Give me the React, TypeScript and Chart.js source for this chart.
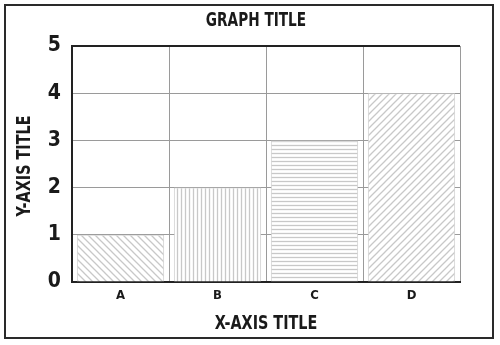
import React, { useEffect, useRef } from "react";
import { Chart, registerables } from "chart.js";

Chart.register(...registerables);

const categories = ["A", "B", "C", "D"];
const values = [1, 2, 3, 4];
const patternKinds = ["backslash", "vertical", "horizontal", "slash"];
const yTicks = [0, 1, 2, 3, 4, 5];
const chartTitle = "GRAPH TITLE";
const xTitle = "X-AXIS TITLE";
const yTitle = "Y-AXIS TITLE";

const FONT = "'DejaVu Sans Condensed', 'DejaVu Sans', sans-serif";

function makePattern(kind: string): CanvasPattern | string {
  const c = document.createElement("canvas");
  const s = kind === "vertical" || kind === "horizontal" ? 4 : 7;
  c.width = s;
  c.height = s;
  const g = c.getContext("2d");
  if (!g) return "#ddd";
  g.fillStyle = "#ffffff";
  g.fillRect(0, 0, s, s);
  g.strokeStyle = "#c8c8c8";
  g.lineWidth = 1.3;
  g.beginPath();
  if (kind === "vertical") {
    g.moveTo(1.5, 0);
    g.lineTo(1.5, s);
  } else if (kind === "horizontal") {
    g.moveTo(0, 1.5);
    g.lineTo(s, 1.5);
  } else if (kind === "slash") {
    g.moveTo(0, s);
    g.lineTo(s, 0);
    g.moveTo(-1, 1);
    g.lineTo(1, -1);
    g.moveTo(s - 1, s + 1);
    g.lineTo(s + 1, s - 1);
  } else {
    g.moveTo(0, 0);
    g.lineTo(s, s);
    g.moveTo(s - 1, -1);
    g.lineTo(s + 1, 1);
    g.moveTo(-1, s - 1);
    g.lineTo(1, s + 1);
  }
  g.stroke();
  const p = g.createPattern(c, "repeat");
  return p || "#ddd";
}

function drawNarrowText(ctx: CanvasRenderingContext2D, text: string, x: number, y: number, size: number, rotate: boolean) {
  ctx.save();
  ctx.translate(x, y);
  if (rotate) ctx.rotate(-Math.PI / 2);
  ctx.scale(0.8, 1);
  ctx.font = `bold ${size}px ${FONT}`;
  ctx.fillStyle = "#1a1a1a";
  ctx.textAlign = "center";
  ctx.textBaseline = "middle";
  ctx.fillText(text, 0, 0);
  ctx.restore();
}

const framePlugin = {
  id: "frame",
  beforeDraw(chart: any) {
    const ctx = chart.ctx;
    ctx.save();
    ctx.fillStyle = "#ffffff";
    ctx.fillRect(0, 0, chart.width, chart.height);
    ctx.strokeStyle = "#2a2a2a";
    ctx.lineWidth = 2;
    ctx.strokeRect(5, 5, 488, 333);
    ctx.restore();
  },
  afterDraw(chart: any) {
    const ctx = chart.ctx;
    const a = chart.chartArea;
    drawNarrowText(ctx, chartTitle, 256, 21, 19, false);
    drawNarrowText(ctx, xTitle, (a.left + a.right) / 2, 324, 20, false);
    drawNarrowText(ctx, yTitle, 25, (a.top + a.bottom) / 2 + 2, 20, true);
  },
};

export default function App() {
  const ref = useRef<HTMLCanvasElement | null>(null);
  useEffect(() => {
    document.body.style.margin = "0";
    if (!ref.current) return;
    const patterns = patternKinds.map(makePattern);
    const chart = new Chart(ref.current, {
      type: "bar",
      data: {
        labels: categories,
        datasets: [
          {
            data: values,
            backgroundColor: patterns as any,
            borderColor: "#d0d0d0",
            borderWidth: 1,
            barPercentage: 0.9,
            categoryPercentage: 1,
          },
        ],
      },
      options: {
        animation: false,
        responsive: false,
        maintainAspectRatio: false,
        layout: { padding: { left: 14, right: 40, top: 46, bottom: 12 } },
        plugins: {
          legend: { display: false },
          tooltip: { enabled: false },
          title: { display: false },
        },
        scales: {
          x: {
            offset: true,
            afterFit: (scale: any) => {
              scale.height = 51;
            },
            grid: {
              offset: true,
              drawTicks: false,
              color: "#9a9a9a",
              lineWidth: 1,
            },
            border: { display: true, color: "#222222", width: 2 },
            ticks: {
              color: "#1a1a1a",
              padding: 6,
              font: { family: FONT, size: 13, weight: "bold" },
            },
          },
          y: {
            min: 0,
            max: 5,
            afterFit: (scale: any) => {
              scale.width = 58;
            },
            afterBuildTicks: (scale: any) => {
              scale.ticks = yTicks.map((v) => ({ value: v }));
            },
            grid: {
              drawTicks: false,
              color: (ctx: any) => (ctx.tick && ctx.tick.value === 5 ? "#222222" : "#9a9a9a"),
              lineWidth: (ctx: any) => (ctx.tick && ctx.tick.value === 5 ? 2 : 1),
            },
            border: { display: true, color: "#222222", width: 2 },
            ticks: {
              color: "#1a1a1a",
              padding: 11,
              font: { family: FONT, size: 21, weight: "bold" },
            },
          },
        },
      },
      plugins: [framePlugin],
    } as any);
    return () => chart.destroy();
  }, []);
  return <canvas ref={ref} width={500} height={345} style={{ display: "block" }} />;
}
